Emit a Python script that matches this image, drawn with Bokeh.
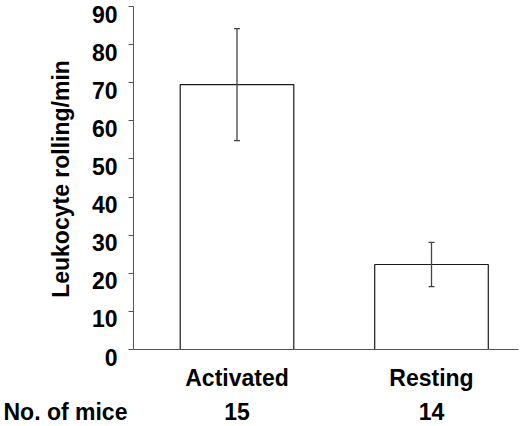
from bokeh.plotting import figure
from bokeh.models import Range1d, FixedTicker, Whisker, TeeHead, ColumnDataSource, LinearAxis
from bokeh.embed import file_html
from bokeh.resources import INLINE

# values
groups = ["Activated", "Resting"]
rolling_mean = [69.5, 22.3]
rolling_err = [14.7, 5.8]
mice_counts = [15, 14]
y_ticks = [0, 10, 20, 30, 40, 50, 60, 70, 80, 90]
count_title = "No. of mice"

FONT = "Liberation Sans"
FS = "23px"

xpos = [i + 1 for i in range(len(groups))]
src = ColumnDataSource(dict(
    x=xpos,
    top=rolling_mean,
    upper=[m + e for m, e in zip(rolling_mean, rolling_err)],
    lower=[m - e for m, e in zip(rolling_mean, rolling_err)],
))

# the frame fills the whole canvas; axes are pinned inside it so the
# "No. of mice" row can sit left of the y axis
AXIS_X = 0.468      # where the y axis stands
AXIS_END = 2.447    # right end of the x axis line
TITLE_X = 0.118     # centre of the "No. of mice" text
LBL_SHIFT = 1.97    # y tick labels sit a little below their ticks

p = figure(width=520, height=426,
           x_range=Range1d(-0.216, 2.4576), y_range=Range1d(-20.204, 91.574),
           output_backend="svg", toolbar_location=None, tools="",
           min_border=0)

p.vbar(x="x", top="top", bottom=0, width=0.584, source=src,
       fill_color="white", line_color="#1a1a1a", line_width=1.2)

err = Whisker(base="x", upper="upper", lower="lower", source=src,
              line_color="#444444", line_width=1.3, level="overlay",
              upper_head=TeeHead(size=6, line_color="#444444", line_width=1.3),
              lower_head=TeeHead(size=6, line_color="#444444", line_width=1.3))
p.add_layout(err)

p.xgrid.visible = False
p.ygrid.visible = False
p.outline_line_color = None

# x axis with the group names
p.xaxis.fixed_location = 0
p.xaxis.bounds = (AXIS_X, AXIS_END)
p.xaxis.ticker = FixedTicker(ticks=xpos)
p.xaxis.major_label_overrides = {x: g for x, g in zip(xpos, groups)}
p.xaxis.major_tick_out = 0
p.xaxis.major_tick_in = 0
p.xaxis.minor_tick_line_color = None
p.xaxis.axis_line_color = "#555555"
p.xaxis.major_label_standoff = 15

# y axis: line and ticks
p.yaxis.fixed_location = AXIS_X
p.yaxis.bounds = (0, 90)
p.yaxis.ticker = FixedTicker(ticks=y_ticks)
p.yaxis.major_tick_out = 5
p.yaxis.major_tick_in = 0
p.yaxis.minor_tick_line_color = None
p.yaxis.axis_line_color = "#555555"
p.yaxis.major_tick_line_color = "#555555"
p.yaxis.major_label_overrides = {t: "" for t in y_ticks}

# y tick labels and title, on a range nudged so labels hang below the ticks
p.extra_y_ranges = {"lbl": Range1d(-20.204 + LBL_SHIFT, 91.574 + LBL_SHIFT)}
ylab = LinearAxis(y_range_name="lbl", fixed_location=AXIS_X,
                  bounds=(0, 90 + 2 * LBL_SHIFT),
                  ticker=FixedTicker(ticks=y_ticks),
                  axis_line_color=None, major_tick_line_color=None,
                  minor_tick_line_color=None, major_tick_out=5, major_tick_in=0,
                  major_label_standoff=11,
                  axis_label="Leukocyte rolling/min", axis_label_standoff=15)
p.add_layout(ylab, "left")

# row with the number of mice
count_ticks = [TITLE_X] + xpos
count_axis = LinearAxis(fixed_location=0,
                        ticker=FixedTicker(ticks=count_ticks),
                        major_label_overrides=dict(zip(count_ticks, [count_title] + [str(c) for c in mice_counts])),
                        axis_line_color=None, major_tick_line_color=None,
                        minor_tick_line_color=None, major_label_standoff=43)
p.add_layout(count_axis, "below")

for ax in (p.xaxis + p.yaxis):
    ax.major_label_text_font = FONT
    ax.major_label_text_font_size = FS
    ax.major_label_text_font_style = "bold"
    ax.major_label_text_color = "black"
    ax.axis_label_text_font = FONT
    ax.axis_label_text_font_size = FS
    ax.axis_label_text_font_style = "bold"
    ax.axis_label_text_color = "black"

open("out.html", "w").write(file_html(p, INLINE))
